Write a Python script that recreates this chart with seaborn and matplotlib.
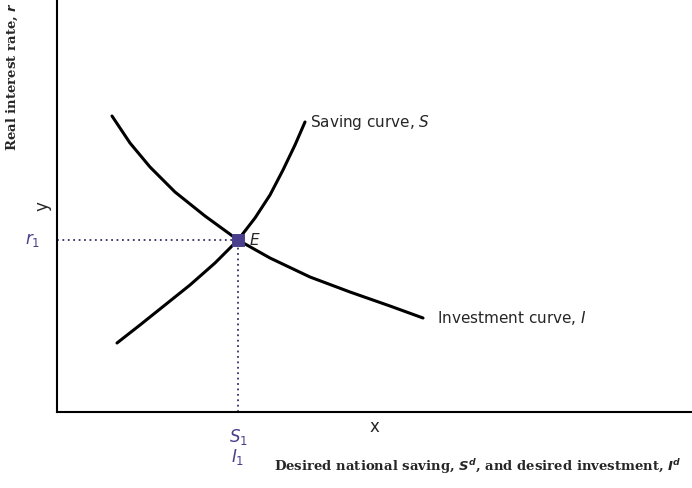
import matplotlib
matplotlib.use("Agg")
import matplotlib.pyplot as plt
import seaborn as sns
import pandas as pd

sns.set_theme(style="white")

# curves (x: saving/investment, y: interest rate)
s_x = [60, 83, 108, 133, 158, 181, 198, 213, 226, 238, 248]
s_y = [69, 87, 107, 127, 149, 172, 194, 217, 242, 267, 290]
i_x = [55, 73, 93, 118, 148, 181, 213, 253, 293, 333, 366]
i_y = [296, 269, 245, 220, 196, 172, 154, 135, 120, 106, 94]
eq_x, eq_y = 181, 172

fig = plt.figure(figsize=(6.92, 4.88), dpi=100)
ax = fig.add_axes([57/692, 76/488, 635/692, 412/488])
purple = "#4a3f8c"

dfs = pd.DataFrame({"x": s_x, "y": s_y})
dfi = pd.DataFrame({"x": i_x, "y": i_y})
sns.lineplot(data=dfs, x="x", y="y", ax=ax, color="black", lw=2.2, sort=False)
sns.lineplot(data=dfi, x="x", y="y", ax=ax, color="black", lw=2.2, sort=False)
ax.plot([0, eq_x], [eq_y, eq_y], ls=(0, (1, 2)), color="#333366", lw=1.3)
ax.plot([eq_x, eq_x], [0, eq_y], ls=(0, (1, 2)), color="#333366", lw=1.3)
sns.scatterplot(x=[eq_x], y=[eq_y], ax=ax, color=purple, s=70, marker="s", zorder=5, edgecolor=purple)

ax.set_xlim(0, 635)
ax.set_ylim(0, 412)
ax.set_xticks([]); ax.set_yticks([])
for sp in ["top", "right"]:
    ax.spines[sp].set_visible(False)
for sp in ["left", "bottom"]:
    ax.spines[sp].set_color("black"); ax.spines[sp].set_linewidth(1.5)

ax.text(253, 290, r"Saving curve, $\mathit{S}$", fontsize=11, ha="left", va="center")
ax.text(380, 94, r"Investment curve, $\mathit{I}$", fontsize=11, ha="left", va="center")
ax.text(192, 172, r"$\mathit{E}$", fontsize=11, va="center")
ax.text(-17, eq_y, "$r_1$", fontsize=12, color=purple, ha="right", va="center")
ax.text(eq_x, -25, "$S_1$", fontsize=12, color=purple, ha="center", va="center")
ax.text(eq_x, -45, "$I_1$", fontsize=12, color=purple, ha="center", va="center")

fig.text(0.985, 0.025, r"Desired national saving, $\mathbfit{S^d}$, and desired investment, $\mathbfit{I^d}$",
         family="DejaVu Serif", fontweight="bold", fontsize=9.5, ha="right", va="bottom")
fig.text(0.006, 0.995, r"Real interest rate, $\mathbfit{r}$", family="DejaVu Serif",
         fontweight="bold", fontsize=9.5, rotation=90, ha="left", va="top")
fig.savefig("out.png", dpi=100)
